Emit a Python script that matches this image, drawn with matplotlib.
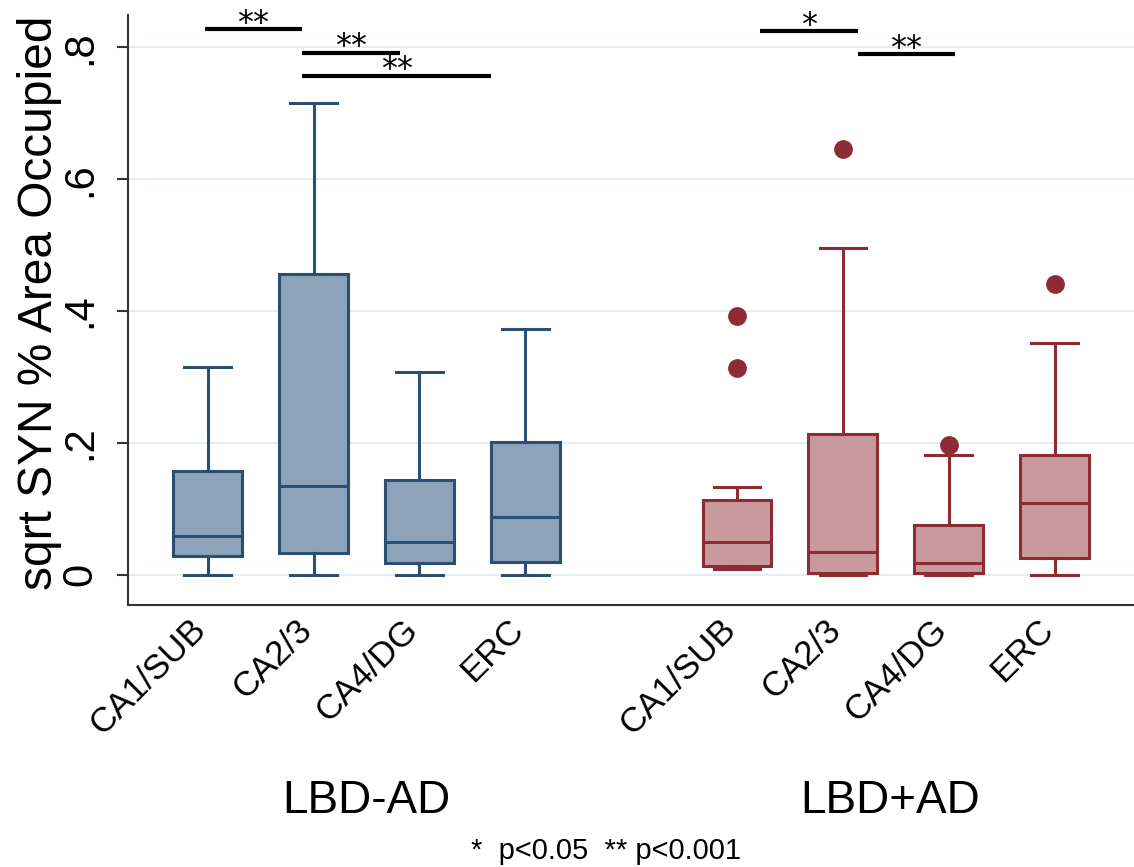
import matplotlib
matplotlib.use("Agg")
import matplotlib.pyplot as plt
import matplotlib.transforms as mtransforms

plt.rcParams["font.family"] = ["Liberation Sans", "DejaVu Sans"]

# Data
regions = ["CA1/SUB", "CA2/3", "CA4/DG", "ERC"]
groups = ["LBD-AD", "LBD+AD"]

noad_whislo = [0.0, 0.0, 0.0, 0.0]
noad_q1 = [0.029, 0.033, 0.017, 0.019]
noad_med = [0.059, 0.135, 0.049, 0.088]
noad_q3 = [0.157, 0.456, 0.144, 0.202]
noad_whishi = [0.315, 0.716, 0.307, 0.372]
noad_fliers = [[], [], [], []]

ad_whislo = [0.008, 0.0, 0.0, 0.0]
ad_q1 = [0.013, 0.002, 0.002, 0.025]
ad_med = [0.049, 0.035, 0.017, 0.108]
ad_q3 = [0.114, 0.213, 0.076, 0.182]
ad_whishi = [0.133, 0.496, 0.181, 0.351]
ad_fliers = [[0.392, 0.313], [0.646], [0.196], [0.441]]

# significance bars
sig_x0 = [0.97, 1.89, 1.89, 6.22, 7.14]
sig_x1 = [1.89, 2.82, 3.68, 7.14, 8.06]
sig_y = [0.828, 0.792, 0.757, 0.824, 0.790]
sig_txt = ["**", "**", "**", "*", "**"]

yticks = [0, 0.2, 0.4, 0.6, 0.8]
yticklabels = ["0", ".2", ".4", ".6", ".8"]

noad_pos = [1, 2, 3, 4]
ad_pos = [6, 7, 8, 9]


def make_stats(lo, q1, med, q3, hi, fl):
    out = []
    for i in range(len(lo)):
        out.append({"whislo": lo[i], "q1": q1[i], "med": med[i], "q3": q3[i],
                    "whishi": hi[i], "fliers": fl[i]})
    return out


fig = plt.figure(figsize=(11.34, 8.67), dpi=100)
ax = fig.add_axes([0.1129, 0.3022, 0.8871, 0.6805])

blue_fill, blue_edge = "#8CA3B9", "#2B4F73"
red_fill, red_edge = "#C8999D", "#8E2C35"

for stats, pos, fc, ec in [
    (make_stats(noad_whislo, noad_q1, noad_med, noad_q3, noad_whishi, noad_fliers), noad_pos, blue_fill, blue_edge),
    (make_stats(ad_whislo, ad_q1, ad_med, ad_q3, ad_whishi, ad_fliers), ad_pos, red_fill, red_edge),
]:
    ax.bxp(stats, positions=pos, widths=0.65, patch_artist=True,
           boxprops=dict(facecolor=fc, edgecolor=ec, linewidth=2.2),
           medianprops=dict(color=ec, linewidth=2.2),
           whiskerprops=dict(color=ec, linewidth=2.2),
           capprops=dict(color=ec, linewidth=2.2),
           capwidths=0.44,
           flierprops=dict(marker="o", markerfacecolor=ec, markeredgecolor=ec,
                           markersize=12.5),
           zorder=3)

ax.set_xlim(0.247, 9.75)
ax.set_ylim(-0.046, 0.849)
ax.set_yticks(yticks)
ax.set_yticklabels(yticklabels, rotation=90, va="center", fontsize=30)
ax.tick_params(axis="y", length=8, width=1.5, pad=12, color="#333333")
ax.grid(axis="y", color="#E3EEF2", linewidth=1.5, zorder=0)
ax.set_axisbelow(True)

ax.set_xticks(noad_pos + ad_pos)
ax.set_xticklabels(regions + regions, rotation=45, ha="right", va="baseline",
                   rotation_mode="anchor", fontsize=25)
ax.tick_params(axis="x", length=0, pad=19)

for s in ["top", "right"]:
    ax.spines[s].set_visible(False)
for s in ["left", "bottom"]:
    ax.spines[s].set_color("#333333")
    ax.spines[s].set_linewidth(1.5)

# significance bars and stars
for x0, x1, y, t in zip(sig_x0, sig_x1, sig_y, sig_txt):
    ax.plot([x0, x1], [y, y], color="black", linewidth=3, solid_capstyle="butt",
            clip_on=False, zorder=4)
    ax.annotate(t, xy=((x0 + x1) / 2, y), xytext=(0, -2),
                textcoords="offset points", ha="center", va="baseline",
                fontsize=23, family="DejaVu Sans", annotation_clip=False)

fig.text(17 / 1134, 1 - 303 / 867, "sqrt SYN % Area Occupied", rotation=90,
         ha="left", va="center", fontsize=34.5)

trans = mtransforms.blended_transform_factory(ax.transData, fig.transFigure)
ax.text(2.5, 1 - 813 / 867, groups[0], transform=trans, ha="center",
        va="baseline", fontsize=33)
ax.text(7.45, 1 - 813 / 867, groups[1], transform=trans, ha="center",
        va="baseline", fontsize=33)

fig.text(606 / 1134, 1 - 851 / 867, "*  p<0.05  ** p<0.001", ha="center",
         va="center", fontsize=21,
         family=["Liberation Sans Narrow", "Liberation Sans"])

fig.savefig("out.png", dpi=100)
